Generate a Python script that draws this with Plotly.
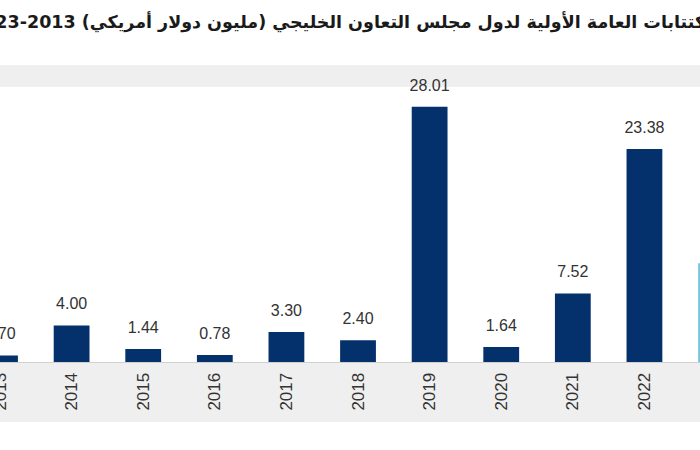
import plotly.graph_objects as go

years = ["2013", "2014", "2015", "2016", "2017", "2018", "2019", "2020", "2021", "2022", "2023"]
values = [0.70, 4.00, 1.44, 0.78, 3.30, 2.40, 28.01, 1.64, 7.52, 23.38, 10.83]
labels = ["0.70", "4.00", "1.44", "0.78", "3.30", "2.40", "28.01", "1.64", "7.52", "23.38", "10.83"]
bar_colors = ["#04306b"] * 10 + ["#79c3e0"]
title_text = "حجم الاكتتابات العامة الأولية لدول مجلس التعاون الخليجي (مليون دولار أمريكي) 2013-2023"

idx = list(range(len(years)))

fig = go.Figure()
fig.add_trace(go.Bar(x=idx, y=values, marker=dict(color=bar_colors, line=dict(width=0)),
                     width=0.5, hoverinfo="skip"))
fig.add_trace(go.Scatter(x=idx, y=values, mode="markers+text", text=labels,
                         textposition="top center", cliponaxis=False, hoverinfo="skip",
                         marker=dict(size=18, color="rgba(0,0,0,0)"),
                         textfont=dict(family="Liberation Sans, Arial, sans-serif", size=16, color="#333333")))

fig.add_annotation(xref="paper", yref="paper", x=-0.044, y=1.25, xanchor="left", yanchor="middle",
                   text="<b>\u202B" + title_text + "\u202C</b>", showarrow=False,
                   font=dict(family="DejaVu Sans, Noto Sans, sans-serif", size=17.5, color="#1a1a1a"))

fig.update_layout(
    width=700, height=450,
    margin=dict(l=0, r=0, t=90, b=88, autoexpand=False),
    paper_bgcolor="white", plot_bgcolor="white",
    showlegend=False,
    bargap=0.5,
    shapes=[
        dict(type="rect", xref="paper", yref="paper", x0=0, x1=1, y0=-0.2206, y1=0,
             fillcolor="#efefef", line=dict(width=0), layer="below"),
        dict(type="rect", xref="paper", yref="paper", x0=0, x1=1, y0=1.011, y1=1.092,
             fillcolor="#efefef", line=dict(width=0), layer="below"),
    ],
)
fig.update_xaxes(range=[-0.0001, 9.776], tickmode="array", tickvals=idx, ticktext=years,
                 tickangle=-90, showline=True, linecolor="#d0d0d0", linewidth=1,
                 ticks="", showgrid=False, zeroline=False, ticklabelstandoff=3, automargin=False,
                 ticklabeloverflow="allow",
                 tickfont=dict(family="Liberation Sans, Arial, sans-serif", size=17, color="#333333"))
fig.update_yaxes(range=[0, 272 / 9.11], visible=False, showgrid=False, zeroline=False, automargin=False)

fig.write_html("out.html", config={"displayModeBar": False},
               post_script="document.body.style.margin='0px';")
